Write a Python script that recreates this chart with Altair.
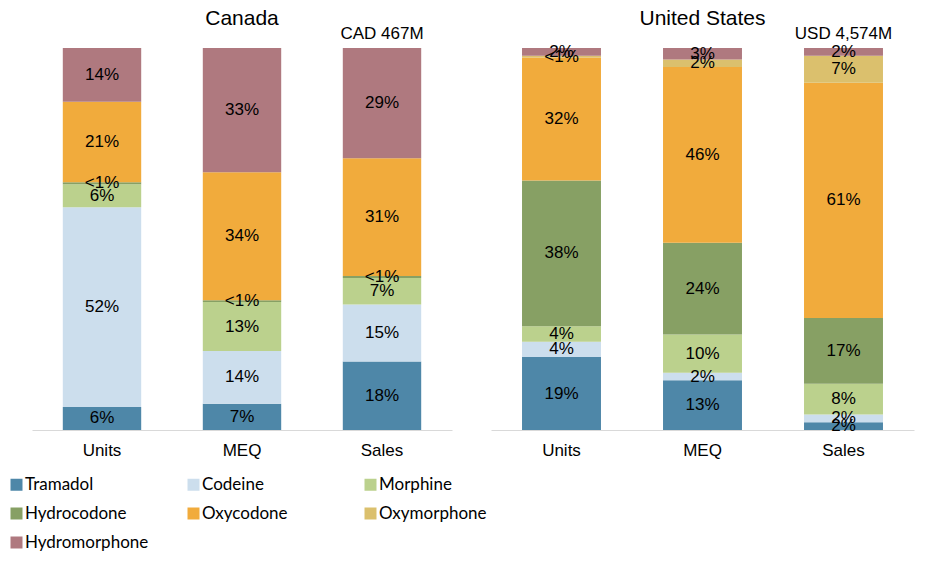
import altair as alt
import pandas as pd

drugs = ["Tramadol", "Codeine", "Morphine", "Hydrocodone", "Oxycodone", "Oxymorphone", "Hydromorphone"]
colors = ["#4E87A8", "#CCDEED", "#BBD18D", "#87A064", "#F1AB3C", "#DBC06D", "#AF797F"]
metrics = ["Units", "MEQ", "Sales"]

# Shares (%) per drug, in the order of `drugs`; 0.5 stands for "<1%"
ca_units = [6, 52, 6, 0.5, 21, 0, 14]
ca_meq = [7, 14, 13, 0.5, 34, 0, 33]
ca_sales = [18, 15, 7, 0.5, 31, 0, 29]
us_units = [19, 4, 4, 38, 32, 0.5, 2]
us_meq = [13, 2, 10, 24, 46, 2, 3]
us_sales = [2, 2, 8, 17, 61, 7, 2]

ca_total = "CAD 467M"
us_total = "USD 4,574M"


def build_frame(series):
    rows = []
    for metric, values in zip(metrics, series):
        for i, (drug, v) in enumerate(zip(drugs, values)):
            label = "<1%" if 0 < v < 1 else f"{v:g}%"
            rows.append({"metric": metric, "drug": drug, "value": v, "order": i, "label": label})
    return pd.DataFrame(rows)


FONT = "Liberation Sans"

x_enc = alt.X(
    "metric:N",
    sort=metrics,
    scale=alt.Scale(paddingInner=0.44, paddingOuter=0.22),
    axis=alt.Axis(
        title=None, labelAngle=0, ticks=False, domainColor="#D9D9D9",
        labelFontSize=17, labelPadding=12, labelFont=FONT, labelColor="black",
    ),
)


def panel(df, title, total, width):
    base = alt.Chart(df).transform_stack(
        stack="value",
        as_=["y0", "y1"],
        groupby=["metric"],
        sort=[alt.SortField("order", order="ascending")],
        offset="normalize",
    ).transform_calculate(mid="(datum.y0 + datum.y1) / 2")

    bars = base.mark_bar().encode(
        x=x_enc,
        y=alt.Y("y0:Q", scale=alt.Scale(domain=[0, 1]), axis=None),
        y2="y1:Q",
        color=alt.Color(
            "drug:N",
            scale=alt.Scale(domain=drugs, range=colors),
            legend=alt.Legend(
                title=None, orient="none", legendX=-24, legendY=428,
                direction="horizontal", columns=3, gridAlign="all",
                symbolType="square", symbolSize=144, symbolStrokeWidth=0,
                labelFontSize=17, labelFont="Lato", labelColor="black",
                columnPadding=36, rowPadding=11, labelOffset=0,
            ),
        ),
    )

    text = base.transform_filter("datum.value > 0").mark_text(
        fontSize=17, font=FONT, color="black"
    ).encode(
        x=x_enc,
        y=alt.Y("mid:Q", scale=alt.Scale(domain=[0, 1]), axis=None),
        text="label:N",
    )

    ann = alt.Chart(pd.DataFrame({"metric": ["Sales"], "t": [total]})).mark_text(
        fontSize=17, font=FONT, color="black"
    ).encode(x=x_enc, y=alt.value(-14), text="t:N")

    return alt.layer(bars, text, ann).properties(
        width=width,
        height=382,
        title=alt.TitleParams(title, fontSize=21, font=FONT, fontWeight="normal", color="black", offset=-4),
    )


ca = panel(build_frame([ca_units, ca_meq, ca_sales]), "Canada", ca_total, 420)
us = panel(build_frame([us_units, us_meq, us_sales]), "United States", us_total, 423)

chart = alt.hconcat(ca, us, spacing=39).properties(
    padding={"left": 0, "top": 0, "right": 5, "bottom": 0}
).configure_view(stroke=None)

chart.save("out.html", embed_options={"renderer": "svg", "actions": False})
